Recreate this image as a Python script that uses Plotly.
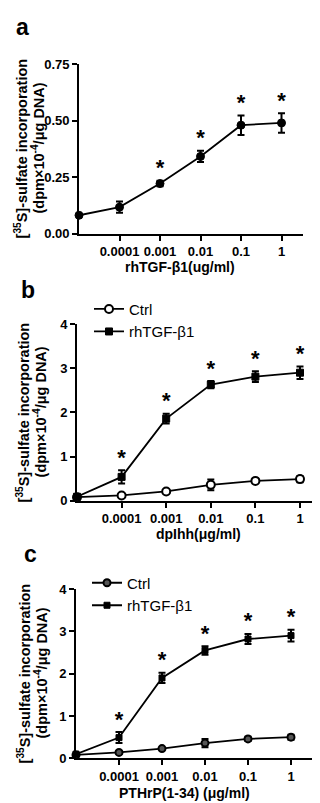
import plotly.graph_objects as go

W, H = 320, 803

# ---------------- data ----------------
x_pos = [0, 1, 2, 3, 4, 5]
tick_vals = [1, 2, 3, 4, 5]
tick_labels = ["0.0001", "0.001", "0.01", "0.1", "1"]

# panel a : rhTGF-beta1 dose response
a_mean = [0.082, 0.118, 0.222, 0.342, 0.480, 0.490]
a_err = [0.0, 0.025, 0.012, 0.025, 0.043, 0.043]
a_sig = [False, False, True, True, True, True]

# panel b : dpIhh
b_ctrl = [0.08, 0.12, 0.21, 0.36, 0.45, 0.49]
b_ctrl_err = [0.03, 0.03, 0.03, 0.12, 0.04, 0.07]
b_tgf = [0.09, 0.54, 1.86, 2.63, 2.81, 2.90]
b_tgf_err = [0.04, 0.15, 0.11, 0.08, 0.12, 0.14]
b_sig = [False, True, True, True, True, True]

# panel c : PTHrP(1-34)
c_ctrl = [0.08, 0.14, 0.23, 0.36, 0.46, 0.50]
c_ctrl_err = [0.02, 0.03, 0.02, 0.10, 0.05, 0.06]
c_tgf = [0.10, 0.49, 1.90, 2.55, 2.82, 2.90]
c_tgf_err = [0.03, 0.13, 0.12, 0.10, 0.12, 0.14]
c_sig = [False, True, True, True, True, True]

FONT = "Arial, Liberation Sans, Helvetica, sans-serif"


def px(x):
    return x / W


def py(y):
    return 1 - y / H


fig = go.Figure()


def add_series(xa, ya, y, err, name, symbol, size, fill, lw, showlegend, legend=None):
    fig.add_trace(go.Scatter(
        x=x_pos, y=y, xaxis=xa, yaxis=ya, name=name,
        mode="lines+markers",
        line=dict(color="black", width=1.8),
        marker=dict(symbol=symbol, size=size, color=fill,
                    line=dict(color="black", width=lw)),
        error_y=dict(type="data", array=err, visible=True, color="black",
                     thickness=2, width=3.5),
        showlegend=showlegend, legend=legend, cliponaxis=False,
    ))


def add_stars(xa, ya, y, err, sig):
    xs = [x for x, s in zip(x_pos, sig) if s]
    ys = [m + e for m, e, s in zip(y, err, sig) if s]
    fig.add_trace(go.Scatter(
        x=xs, y=ys, xaxis=xa, yaxis=ya, mode="text",
        text=["<b>*</b>"] * len(xs), textposition="top center",
        textfont=dict(family=FONT, size=22, color="black"),
        showlegend=False, hoverinfo="skip", cliponaxis=False,
    ))


# panel a
add_series("x", "y", a_mean, a_err, "rhTGF-β1", "circle", 8, "black", 1, False)
add_stars("x", "y", a_mean, a_err, a_sig)

# panel b
add_series("x2", "y2", b_ctrl, b_ctrl_err, "Ctrl", "circle", 8, "white", 2, True, "legend")
add_series("x2", "y2", b_tgf, b_tgf_err, "rhTGF-β1", "square", 7, "black", 1, True, "legend")
add_stars("x2", "y2", b_tgf, b_tgf_err, b_sig)

# panel c
add_series("x3", "y3", c_ctrl, c_ctrl_err, "Ctrl", "circle", 7, "#555555", 2, True, "legend2")
add_series("x3", "y3", c_tgf, c_tgf_err, "rhTGF-β1", "square", 6, "black", 1, True, "legend2")
add_stars("x3", "y3", c_tgf, c_tgf_err, c_sig)

axis_common = dict(showline=True, linecolor="black", linewidth=1.8,
                   ticks="outside", ticklen=5, tickwidth=1.8, tickcolor="black",
                   showgrid=False, zeroline=False, fixedrange=True,
                   tickfont=dict(family=FONT, size=13, color="black", weight="bold"))

panels = [
    ("xaxis", "yaxis", "x", "y", 71, 273.5, 295, 50, 223, [0, 0.75], 0.25, ".2f"),
    ("xaxis2", "yaxis2", "x2", "y2", 69, 292, 315, 315, 495, [0, 4], 1, "d"),
    ("xaxis3", "yaxis3", "x3", "y3", 68, 283, 305, 585, 757.5, [0, 4], 1, "d"),
]

layout = dict(
    width=W, height=H, margin=dict(l=0, r=0, t=0, b=0),
    paper_bgcolor="white", plot_bgcolor="white",
    font=dict(family=FONT, color="black"),
)

for xn, yn, xr, yr, x0, x5, xend, ytop, ybot, yrange, dt, fmt in panels:
    unit = (x5 - x0) / 5.0
    layout[xn] = dict(axis_common, domain=[px(x0), px(xend)],
                      range=[0, (xend - x0) / unit], anchor=yr,
                      tickmode="array", tickvals=tick_vals, ticktext=tick_labels)
    layout[yn] = dict(axis_common, domain=[py(ybot), py(ytop)],
                      range=yrange, anchor=xr, tick0=0, dtick=dt, tickformat=fmt)

layout["legend"] = dict(x=px(81), y=py(283), xanchor="left", yanchor="top",
                        bgcolor="rgba(0,0,0,0)", tracegroupgap=0,
                        font=dict(family=FONT, size=15, color="black"))
layout["legend2"] = dict(x=px(79), y=py(562), xanchor="left", yanchor="top",
                         bgcolor="rgba(0,0,0,0)", tracegroupgap=0,
                         font=dict(family=FONT, size=15, color="black"))

fig.update_layout(**layout)

ann = []
# panel letters
for letter, x, y in [("a", 14, 12), ("b", 20, 280), ("c", 22, 549)]:
    ann.append(dict(text=f"<b>{letter}</b>", x=px(x), y=py(y), xref="paper", yref="paper",
                    showarrow=False, xanchor="center", yanchor="middle",
                    font=dict(family=FONT, size=23, color="black")))

# y axis titles (two lines each)
line1 = "[<sup>35</sup>S]-sulfate incorporation"
line2 = "(dpm×10<sup>-4</sup>/μg DNA)"
for l1x, l2x, yc in [(13, 30, 136), (15, 32, 405), (16, 33, 671)]:
    for txt, xx in [(line1, l1x), (line2, l2x)]:
        ann.append(dict(text=f"<b>{txt}</b>", x=px(xx), y=py(yc), xref="paper", yref="paper",
                        showarrow=False, xanchor="center", yanchor="middle", textangle=-90,
                        font=dict(family=FONT, size=14.5, color="black")))

# x axis titles
for txt, xc, yc in [("rhTGF-β1(ug/ml)", 172, 257), ("dpIhh(μg/ml)", 190, 529),
                    ("PTHrP(1-34) (μg/ml)", 176, 793)]:
    ann.append(dict(text=f"<b>{txt}</b>", x=px(xc), y=py(yc), xref="paper", yref="paper",
                    showarrow=False, xanchor="center", yanchor="middle",
                    font=dict(family=FONT, size=14, color="black")))

fig.update_layout(annotations=ann)
fig.write_html("out.html")
